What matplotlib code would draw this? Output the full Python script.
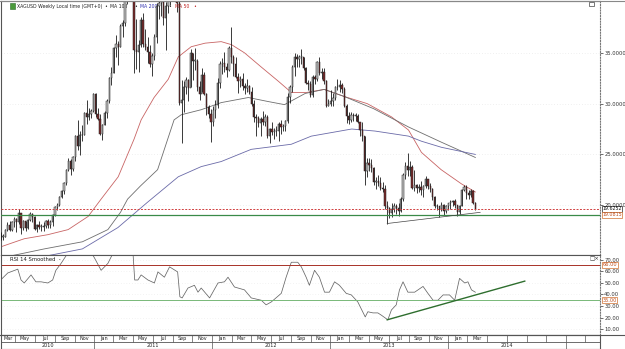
import matplotlib
matplotlib.use("Agg")
import matplotlib.pyplot as plt
import matplotlib.dates as mdates
import matplotlib.transforms as mtrans
import numpy as np
import pandas as pd

plt.rcParams['font.family'] = ['DejaVu Sans']

# weekly XAGUSD bars, first week Mar 15 2010
first_week = "2010-03-17"
first_open = 17.2
close = [16.9, 16.9, 17.6, 18.1, 17.6, 18.3, 18.6, 18.3, 19.2, 17.8, 18.4, 17.8, 18.5, 19.1, 18.8, 17.7, 18.1, 17.9, 17.9, 18.0,
         18.4, 18.1, 18.3, 19.0, 19.8, 20.0, 20.8, 21.4, 22.2, 23.5, 24.4, 23.6, 24.7, 26.8, 25.8, 26.9, 26.9, 29.1, 28.7, 29.0,
         29.3, 30.9,
         29.0, 28.5, 27.0, 27.9, 29.1, 30.3, 32.5, 33.0, 35.5, 35.9, 35.6, 37.6, 37.9, 40.6, 42.7, 46.5, 48.6, 35.3, 35.1, 35.8,
         38.2, 35.9, 35.6, 35.1, 33.9, 34.7, 36.6, 39.6, 39.9, 40.1, 38.4, 39.6, 43.0, 41.6, 43.1, 41.6, 39.9, 30.1, 30.4, 31.6,
         32.3, 31.5, 35.0, 34.2, 34.2, 31.6, 30.9, 32.8, 30.9, 29.7, 29.0, 28.2,
         29.4, 29.9, 32.0, 33.9, 34.0, 33.6, 33.3, 35.5, 34.6, 33.9, 32.6, 32.2, 32.4, 31.7, 31.5, 31.7, 31.1, 30.0, 28.7, 28.6,
         28.1, 28.5, 28.2, 28.7, 26.8, 27.5, 27.2, 27.3, 27.3, 28.0, 27.7, 27.8, 28.3, 30.7, 31.6, 33.6, 34.6, 34.4, 34.6, 34.6,
         33.5, 32.0, 31.9, 30.8, 32.6, 32.4, 34.1, 33.0, 33.1, 32.2, 29.8, 30.0,
         30.3, 30.6, 31.6, 31.6, 31.8, 31.4, 29.8, 28.8, 28.4, 28.9, 28.8, 28.8, 28.2, 27.4, 26.8, 23.4, 24.2, 24.0, 23.7, 22.3,
         22.4, 22.2, 21.7, 21.6, 19.9, 19.7, 19.2, 19.6, 19.9, 19.7, 19.4, 20.6, 23.0, 23.9, 23.5, 23.8, 21.7, 22.0, 21.7, 21.8,
         21.5, 21.9, 22.6, 21.9, 21.6, 20.8, 19.9, 19.9, 19.6, 20.0, 19.4, 19.9,
         20.2, 20.3, 20.4, 20.0, 19.3, 19.9, 21.5, 21.8, 21.2, 21.0, 21.4, 20.2, 19.6252]
high = [17.4, 17.2, 17.7, 18.3, 18.4, 18.4, 18.8, 18.7, 19.6, 19.2, 18.5, 18.4, 18.6, 19.3, 19.2, 18.9, 18.2, 18.4, 18.2, 18.3,
        18.5, 18.6, 18.5, 19.1, 19.9, 20.2, 20.9, 21.5, 22.3, 23.6, 24.6, 24.5, 24.8, 26.9, 28.4, 27.3, 27.9, 29.2, 30.4, 29.6,
        29.5, 31.0,
        31.0, 29.6, 29.0, 28.0, 29.3, 30.5, 32.6, 33.6, 35.6, 36.8, 36.2, 37.8, 38.2, 40.8, 42.9, 46.8, 49.8, 48.6, 38.3, 36.3,
        38.5, 38.9, 37.3, 36.6, 35.8, 35.0, 36.9, 39.9, 40.3, 40.8, 42.1, 40.0, 44.2, 43.8, 43.3, 43.4, 41.6, 40.8, 32.3, 32.2,
        32.6, 32.4, 35.4, 35.0, 35.5, 34.4, 32.2, 33.5, 33.1, 31.0, 29.9, 29.5,
        29.8, 30.4, 32.5, 34.2, 34.5, 35.1, 34.0, 35.7, 37.5, 34.8, 34.6, 33.0, 32.7, 33.0, 32.0, 32.4, 31.8, 31.6, 30.4, 29.0,
        28.8, 28.7, 29.3, 29.0, 28.9, 27.6, 28.2, 27.6, 27.8, 28.2, 28.4, 28.0, 28.4, 31.0, 31.8, 33.8, 35.0, 34.9, 34.8, 35.4,
        34.6, 33.6, 32.3, 32.2, 32.8, 32.8, 34.2, 34.6, 33.5, 33.5, 32.3, 30.5,
        31.3, 31.0, 31.7, 32.4, 32.3, 32.0, 31.6, 30.0, 29.2, 29.2, 29.1, 29.1, 29.0, 28.2, 28.2, 26.8, 24.6, 24.6, 24.5, 23.8,
        22.8, 23.0, 22.8, 22.3, 22.0, 20.4, 19.8, 20.2, 20.2, 20.1, 20.2, 20.8, 23.2, 24.3, 25.1, 24.4, 24.0, 23.5, 22.1, 22.1,
        22.4, 22.0, 22.9, 22.6, 22.2, 21.7, 20.9, 20.1, 19.9, 20.3, 20.1, 20.0,
        20.2, 20.5, 20.5, 20.6, 20.0, 20.0, 21.6, 22.0, 22.0, 21.5, 21.6, 21.5, 20.3]
low = [16.6, 16.6, 16.9, 17.5, 17.5, 17.5, 17.9, 17.4, 18.2, 17.2, 17.6, 17.5, 17.7, 18.4, 18.3, 17.6, 17.4, 17.7, 17.5, 17.5,
       17.8, 17.8, 17.8, 18.0, 18.9, 19.5, 19.9, 20.7, 21.1, 22.0, 23.4, 23.0, 23.4, 24.4, 25.4, 24.9, 26.3, 26.9, 28.0, 28.4,
       28.6, 29.2,
       28.7, 28.4, 26.9, 26.4, 27.9, 28.6, 30.1, 31.8, 33.0, 34.6, 33.8, 35.6, 36.6, 37.6, 39.8, 42.5, 44.2, 33.0, 33.4, 33.1,
       35.6, 35.6, 35.3, 34.0, 33.6, 32.7, 34.3, 36.0, 38.3, 38.6, 37.7, 35.3, 38.9, 39.7, 40.7, 40.7, 39.0, 29.9, 26.1, 29.2,
       30.9, 30.3, 31.6, 32.3, 33.3, 31.2, 30.4, 31.1, 30.8, 28.9, 28.6, 26.2,
       27.8, 28.6, 29.6, 31.5, 32.9, 33.1, 32.6, 33.2, 34.0, 32.7, 32.5, 31.0, 31.6, 31.3, 30.9, 31.1, 30.9, 29.8, 28.2, 26.8,
       27.7, 26.8, 27.9, 27.8, 26.6, 26.1, 26.9, 26.5, 26.8, 26.3, 27.0, 27.3, 27.3, 28.1, 30.1, 31.1, 32.7, 33.6, 33.6, 33.9,
       33.3, 31.9, 31.3, 30.7, 30.7, 31.9, 32.2, 32.8, 32.4, 31.9, 29.7, 29.8,
       29.8, 29.8, 30.4, 31.3, 31.1, 31.0, 29.7, 28.1, 28.0, 28.2, 28.3, 28.3, 28.1, 26.8, 26.3, 22.0, 22.8, 23.4, 23.3, 22.0,
       21.6, 21.9, 21.5, 21.3, 19.6, 18.2, 18.7, 18.8, 19.3, 19.1, 18.9, 19.3, 20.4, 22.6, 22.9, 22.9, 21.6, 21.4, 21.2, 21.3,
       21.0, 20.8, 21.7, 21.6, 21.3, 20.5, 19.7, 19.5, 18.8, 19.4, 19.0, 19.2,
       19.5, 19.6, 19.9, 19.7, 18.9, 19.1, 19.9, 21.4, 20.6, 20.6, 20.8, 20.1, 19.5]

# moving averages
ma50_dates = ["2010-03-17", "2010-05-29", "2010-08-10", "2010-10-12", "2010-12-13", "2011-01-22", "2011-03-16",
              "2011-05-04", "2011-05-26", "2011-07-05", "2011-08-18", "2011-09-18", "2011-10-28", "2011-12-10",
              "2012-01-29", "2012-03-01", "2012-04-10", "2012-06-01", "2012-07-24", "2012-09-02", "2012-10-20",
              "2012-12-13", "2013-02-13", "2013-04-25", "2013-07-09", "2013-08-31", "2013-10-10", "2013-12-10",
              "2014-02-11", "2014-03-26"]
ma50_vals = [15.9, 16.7, 17.1, 17.6, 18.9, 20.6, 22.8, 26.5, 28.4, 30.6, 32.4, 34.6, 35.6, 35.95, 36.1, 35.8, 35.0, 33.6,
             32.2, 31.1, 31.1, 31.4, 30.7, 30.0, 28.7, 27.4, 25.2, 23.5, 22.1, 21.3]
ma100_dates = ["2010-03-17", "2010-07-30", "2010-11-25", "2011-02-12", "2011-03-23", "2011-04-14", "2011-05-24",
               "2011-07-16", "2011-09-05", "2011-09-27", "2011-11-28", "2012-01-29", "2012-04-22", "2012-06-23",
               "2012-08-12", "2012-10-15", "2012-12-13", "2013-02-13", "2013-05-15", "2013-08-31", "2013-12-11",
               "2014-03-26"]
ma100_vals = [14.8, 15.7, 16.4, 17.6, 19.3, 20.6, 21.9, 23.5, 28.4, 28.9, 29.4, 30.1, 30.6, 30.2, 29.9, 31.0, 31.4, 30.7,
              29.5, 27.7, 26.2, 24.7]
ma200_dates = ["2010-03-17", "2010-07-20", "2010-11-25", "2011-03-15", "2011-06-15", "2011-09-18", "2011-11-28",
               "2012-01-29", "2012-05-01", "2012-09-02", "2012-11-03", "2013-03-08", "2013-05-19", "2013-08-31",
               "2013-10-10", "2013-12-11", "2014-03-26"]
ma200_vals = [13.8, 14.9, 15.7, 17.8, 20.3, 22.8, 23.8, 24.3, 25.5, 26.0, 26.8, 27.5, 27.3, 26.8, 26.3, 25.7, 25.0]

# RSI 14 smoothed
rsi_dates = ["2010-03-17", "2010-04-08", "2010-05-09", "2010-05-19", "2010-05-29", "2010-06-19", "2010-07-04",
             "2010-07-20", "2010-08-10", "2010-08-25", "2010-09-04", "2010-09-20", "2010-10-11", "2010-10-30",
             "2010-11-21", "2010-12-10", "2011-01-01", "2011-01-22", "2011-02-12", "2011-02-22", "2011-03-09",
             "2011-03-28", "2011-04-29", "2011-05-06", "2011-05-16", "2011-05-26", "2011-06-16", "2011-07-06",
             "2011-07-17", "2011-08-06", "2011-08-22", "2011-09-16", "2011-09-23", "2011-09-30", "2011-10-18",
             "2011-11-07", "2011-11-18", "2011-11-28", "2011-12-24", "2012-01-19", "2012-02-08", "2012-02-19",
             "2012-03-10", "2012-04-10", "2012-05-01", "2012-06-01", "2012-06-16", "2012-07-02", "2012-08-02",
             "2012-08-17", "2012-09-02", "2012-09-22", "2012-10-03", "2012-10-18", "2012-10-28", "2012-11-13",
             "2012-11-28", "2012-12-14", "2012-12-29", "2013-01-14", "2013-01-29", "2013-02-19", "2013-03-07",
             "2013-03-27", "2013-04-19", "2013-04-27", "2013-05-13", "2013-05-28", "2013-06-08", "2013-06-28",
             "2013-07-09", "2013-07-24", "2013-08-03", "2013-08-14", "2013-08-29", "2013-09-19", "2013-10-15",
             "2013-10-30", "2013-11-15", "2013-11-30", "2013-12-16", "2014-01-05", "2014-01-21", "2014-02-05",
             "2014-02-21", "2014-03-03", "2014-03-14", "2014-03-26"]
rsi_vals = [52.6, 58.7, 62, 52.6, 50, 57, 51, 51, 50, 52.6, 61, 67, 76, 80, 78, 82, 72, 61, 67, 72.6, 80,
            82, 84, 52.6, 52.6, 57, 52.6, 50, 59.6, 55, 64, 59.6, 38, 37, 45.6,
            48, 42, 45.6, 37, 50, 51, 55, 46.5, 44, 37, 35, 31, 33.5, 41, 55, 68, 68, 64, 55, 48, 61,
            55, 42, 42, 51, 48, 41, 39.6, 33.5, 20.5, 25, 24, 24, 22, 18, 26.5, 31, 44, 51, 42, 42, 47,
            41, 35, 35, 39.6, 39.6, 35, 54, 50, 51, 44, 42]

last_price = 19.6252
support = 19.0815
rsi_upper, rsi_lower = 66, 35
trend_dates = ["2013-06-26", "2014-04-10"]
trend_vals = [18.2, 19.3]
rsi_trend_dates = ["2013-06-26", "2014-08-26"]
rsi_trend_vals = [18, 51.6]

header_items = ["XAGUSD Weekly Local time (GMT+0)", "\u2022", "MA 100", "\u2022", "MA 200", "\u2022", "MA 50", "\u2022"]
header_colors = ["#222222", "#222222", "#222222", "#222222", "#3030b0", "#222222", "#c02020", "#c02020"]
header_px = [17, 104, 110, 134, 140, 168, 175, 193]

months = ["Jan", "Mar", "May", "Jul", "Sep", "Nov"]
last_labelled = "2014-03-01"
years = [2010, 2011, 2012, 2013, 2014]

W, H = 625, 349
def box(x0, y0, x1, y1):
    return [x0 / W, 1 - y1 / H, (x1 - x0) / W, (y1 - y0) / H]

fig = plt.figure(figsize=(W / 100, H / 100), dpi=100)
ax = fig.add_axes(box(1, 1, 600, 255))
ax2 = fig.add_axes(box(1, 255, 600, 335), sharex=ax)
axd = fig.add_axes(box(1, 335, 600, 349), sharex=ax)

x0, x1 = mdates.datestr2num("2010-03-18"), mdates.datestr2num("2015-04-16")
ax.set_xlim(x0, x1)
ax.set_ylim(15.1, 40.1)
ax2.set_ylim(4.8, 74.3)

edge_col = "#555555"
for a in (ax, ax2, axd):
    a.set_facecolor("white")
    for s in a.spines.values():
        s.set_color(edge_col)
        s.set_linewidth(0.8)
    a.tick_params(axis="x", bottom=False, labelbottom=False)
for a in (ax, ax2):
    a.spines["right"].set_linestyle((0, (1, 1.5)))
    a.spines["right"].set_color("#777777")
    a.yaxis.tick_right()
    a.tick_params(axis="y", labelsize=3.8, length=2, width=0.5, pad=1, colors="#333333")

# candles
weeks = pd.date_range(first_week, periods=len(close), freq="W-WED")
xs = mdates.date2num(weeks)
c = np.array(close)
o = np.array([first_open] + close[:-1])
hi = np.array(high)
lo = np.array(low)
up = c >= o
body_col = np.where(up, "#c4c4c4", "#7c2c2c")
ax.vlines(xs, lo, hi, colors="#1a1a1a", lw=0.6, zorder=3)
ax.bar(xs, np.maximum(np.abs(c - o), 0.06), bottom=np.minimum(o, c), width=4.0,
       color=body_col, edgecolor="#1a1a1a", linewidth=0.35, zorder=4)

# moving averages
ax.plot(mdates.datestr2num(ma50_dates), ma50_vals, color="#c86464", lw=0.6, zorder=2)
ax.plot(mdates.datestr2num(ma100_dates), ma100_vals, color="#6e6e6e", lw=0.6, zorder=2)
ax.plot(mdates.datestr2num(ma200_dates), ma200_vals, color="#6a6aa8", lw=0.6, zorder=2)

ax.set_yticks([20, 25, 30, 35])
ax.yaxis.set_major_formatter(plt.FormatStrFormatter("%.4f"))
ax.grid(axis="y", color="#e2e2e2", lw=0.5, ls=(0, (1, 3)))

ax.axhline(last_price, color="#d04040", lw=0.7, ls=(0, (2, 1.5)), zorder=5)
ax.axhline(support, color="#3a8a48", lw=0.9, zorder=5)
ax.plot(mdates.datestr2num(trend_dates), trend_vals, color="#444444", lw=0.5, zorder=5)

tr = mtrans.blended_transform_factory(ax.transAxes, ax.transData)
ax.text(1.004, last_price + 0.02, "%.4f" % last_price, transform=tr, fontsize=3.4, va="center", ha="left",
        color="#111111", bbox=dict(boxstyle="square,pad=0.06", fc="white", ec="#222222", lw=0.5), clip_on=False,
        zorder=10)
ax.text(1.004, support - 0.04, "%.4f" % support, transform=tr, fontsize=3.4, va="center", ha="left",
        color="#c05020", bbox=dict(boxstyle="square,pad=0.06", fc="white", ec="#d07030", lw=0.5), clip_on=False,
        zorder=10)

# header
ax.text(10 / 599, 0.988, "  ", transform=ax.transAxes, fontsize=3.2,
        bbox=dict(boxstyle="square,pad=0.2", fc="#4a9a3a", ec="#2a6a2a", lw=0.4), va="top")
for txt, col, px in zip(header_items, header_colors, header_px):
    ax.text((px - 1) / 599, 0.988, txt, transform=ax.transAxes, fontsize=3.3, color=col, va="top", ha="left")
ax.add_patch(plt.Rectangle((0.982, 0.982), 0.008, 0.014, transform=ax.transAxes, fill=False, ec="#444444",
                           lw=0.5, clip_on=False))

# RSI
ax2.plot(mdates.datestr2num(rsi_dates), rsi_vals, color="#666666", lw=0.55)
ax2.axhline(rsi_upper, color="#a83228", lw=0.7)
ax2.axhline(rsi_lower, color="#78b878", lw=0.7)
ax2.plot(mdates.datestr2num(rsi_trend_dates), rsi_trend_vals, color="#2e6e2e", lw=1.0)
ax2.set_yticks([10, 20, 30, 40, 50, 60, 70])
ax2.yaxis.set_major_formatter(plt.FormatStrFormatter("%.2f"))
ax2.grid(axis="y", color="#e8e8e8", lw=0.5, ls=(0, (1, 3)))
tr2 = mtrans.blended_transform_factory(ax2.transAxes, ax2.transData)
for v in (rsi_upper, rsi_lower):
    ax2.text(1.004, v, "%.2f" % v, transform=tr2, fontsize=3.6, va="center", ha="left", color="#c05020",
             bbox=dict(boxstyle="square,pad=0.1", fc="white", ec="#d07030", lw=0.5), clip_on=False, zorder=10)
ax2.text(0.015, 0.98, "RSI 14 Smoothed  -", transform=ax2.transAxes, fontsize=3.8, va="top", color="#222222")
ax2.text(0.982, 0.985, "\u25a1\u00d7", transform=ax2.transAxes, fontsize=4, va="top", ha="left", color="#333333")

# date strip
axd.set_ylim(0, 2)
axd.set_yticks([])
axd.axhline(1, color=edge_col, lw=0.6)
bounds = pd.date_range("2010-01-01", "2015-07-01", freq="2MS")
bx = mdates.date2num(bounds)
axd.vlines(bx, 1, 2, color=edge_col, lw=0.5)
for i in range(len(bounds) - 1):
    if bounds[i] > pd.Timestamp(last_labelled):
        break
    a_, b_ = max(bx[i], x0), min(bx[i + 1], x1)
    if b_ <= x0:
        continue
    axd.text((a_ + b_) / 2, 1.5, months[bounds[i].month // 2], fontsize=3.5, ha="center", va="center",
             color="#222222")
yb = mdates.date2num(pd.to_datetime([f"{y}-01-01" for y in years + [years[-1] + 1]]))
axd.vlines(yb, 0, 1, color=edge_col, lw=0.5)
for i, y in enumerate(years):
    a_, b_ = max(yb[i], x0), min(yb[i + 1], x1)
    axd.text((a_ + b_) / 2, 0.5, str(y), fontsize=3.5, ha="center", va="center", color="#222222")

# frame on the right of the date strip
fig.add_artist(plt.Line2D([0, 1], [1 - 335 / H, 1 - 335 / H], color=edge_col, lw=0.8))
fig.add_artist(plt.Line2D([0, 1], [1 - 0.5 / H, 1 - 0.5 / H], color="#888888", lw=0.8))

fig.savefig("out.png", dpi=100)
